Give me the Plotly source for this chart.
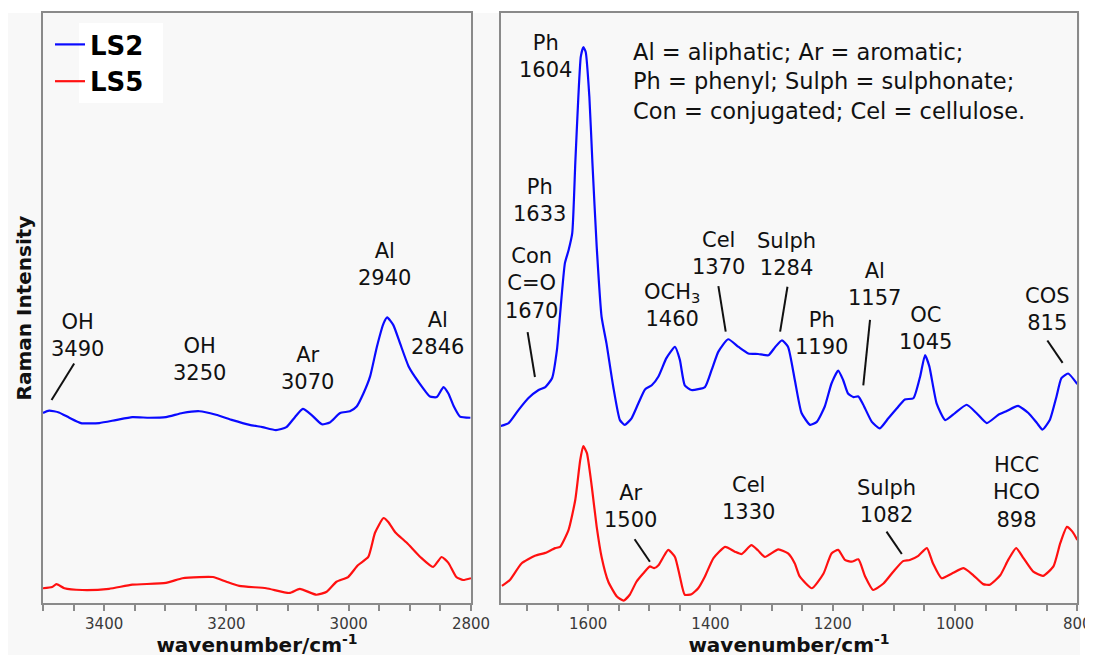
import plotly.graph_objects as go

# ---------------- data ----------------
# High-wavenumber region (left panel)
hw_wn_ls2 = [3500, 3490, 3474, 3457, 3438, 3408, 3381, 3354, 3326, 3299, 3272, 3244, 3217,
             3190, 3162, 3141, 3119, 3102, 3088, 3075, 3061, 3044, 3031, 3014, 2998, 2987,
             2976, 2965, 2954, 2943, 2937, 2927, 2916, 2902, 2886, 2867, 2856, 2845, 2837,
             2828, 2818, 2801]
hw_ls2 = [32.2, 32.6, 32.3, 31.4, 30.5, 30.5, 31.0, 31.5, 31.4, 31.5, 32.2, 32.5, 31.9,
          31.0, 30.2, 29.8, 29.3, 29.8, 31.5, 32.9, 31.9, 30.3, 30.6, 32.2, 32.5, 33.3,
          35.5, 38.4, 43.4, 47.4, 48.4, 47.1, 44.0, 40.1, 37.5, 35.0, 34.9, 36.6, 35.5,
          33.3, 31.6, 31.4]

hw_wn_ls5 = [3500, 3485, 3478, 3465, 3436, 3392, 3354, 3299, 3272, 3244, 3222, 3200, 3179,
             3135, 3097, 3080, 3053, 3036, 3020, 3001, 2985, 2968, 2957, 2943, 2935, 2924,
             2905, 2883, 2862, 2848, 2837, 2824, 2813, 2800]
hw_ls5 = [2.5, 2.7, 3.2, 2.5, 2.2, 2.4, 3.1, 3.4, 4.2, 4.4, 4.4, 3.6, 2.9,
          2.5, 1.7, 2.4, 1.4, 1.9, 3.6, 4.4, 6.4, 7.8, 11.9, 14.4, 13.7, 12.0,
          10.2, 7.8, 6.1, 7.8, 6.8, 4.4, 3.9, 4.2]

# Fingerprint region (right panel)
fp_wn_ls2 = [1743, 1730, 1714, 1698, 1681, 1670, 1659, 1651, 1646, 1638, 1632, 1626, 1621,
             1616, 1612, 1608, 1604, 1598, 1593, 1586, 1578, 1570, 1559, 1548, 1540, 1529,
             1518, 1507, 1496, 1485, 1472, 1458, 1450, 1442, 1431, 1409, 1398, 1387, 1371,
             1354, 1338, 1322, 1305, 1294, 1283, 1273, 1262, 1251, 1237, 1226, 1213, 1202,
             1191, 1183, 1175, 1166, 1158, 1150, 1136, 1123, 1109, 1095, 1082, 1068, 1057,
             1049, 1042, 1030, 1016, 1000, 981, 965, 948, 929, 916, 897, 880, 866, 857,
             845, 834, 826, 815, 800]
fp_ls2 = [30.0, 30.5, 32.7, 34.7, 36.1, 36.6, 38.1, 42.9, 48.8, 57.6, 59.8, 62.7, 74.6,
          85.8, 92.6, 94.2, 93.4, 85.8, 74.6, 60.4, 48.5, 44.0, 36.7, 31.0, 30.2, 31.3,
          33.8, 36.2, 36.9, 38.4, 41.5, 43.4, 41.2, 36.9, 36.1, 36.6, 39.5, 42.6, 44.7,
          43.4, 42.3, 42.2, 42.0, 43.4, 44.5, 43.4, 37.8, 32.2, 30.2, 30.7, 33.3, 37.2,
          39.4, 37.8, 35.5, 34.9, 35.0, 33.6, 30.7, 29.6, 31.3, 33.0, 34.5, 34.7, 38.4,
          42.0, 40.1, 33.8, 31.0, 32.2, 33.6, 32.2, 30.5, 31.9, 32.5, 33.4, 32.2, 30.5, 29.4,
          31.0, 35.0, 38.1, 38.9, 37.1]

fp_wn_ls5 = [1741, 1728, 1709, 1687, 1670, 1654, 1646, 1632, 1621, 1613, 1608, 1602, 1594,
             1586, 1578, 1567, 1553, 1542, 1532, 1521, 1510, 1499, 1492, 1485, 1477, 1469,
             1458, 1450, 1442, 1431, 1420, 1409, 1395, 1376, 1360, 1349, 1333, 1322, 1311,
             1289, 1273, 1262, 1254, 1234, 1215, 1202, 1191, 1180, 1169, 1158, 1147, 1134,
             1117, 1101, 1085, 1074, 1060, 1046, 1036, 1022, 1005, 986, 970, 954, 943, 926,
             913, 900, 888, 872, 856, 839, 828, 817, 808, 800]
fp_ls5 = [2.9, 3.9, 6.7, 8.0, 8.5, 9.3, 9.5, 12.4, 17.5, 24.2, 26.6, 25.4, 19.7,
          12.9, 7.8, 3.6, 1.1, 0.4, 1.4, 3.6, 5.0, 6.2, 5.9, 6.4, 7.8, 9.0,
          7.8, 4.5, 1.4, 1.5, 2.5, 4.5, 7.6, 9.5, 8.7, 8.3, 9.8, 8.9, 7.8,
          9.1, 8.4, 6.7, 4.5, 2.5, 5.0, 8.4, 9.0, 7.3, 7.0, 7.4, 4.5, 2.2,
          3.3, 5.3, 7.1, 7.3, 8.0, 9.3, 6.7, 4.2, 5.0, 5.9, 4.7, 3.2, 3.1, 4.7,
          7.3, 9.3, 7.6, 5.3, 4.6, 6.2, 10.1, 12.9, 12.1, 10.7]

series_names = ["LS2", "LS5"]

# peak labels: (text, wavenumber, intensity, panel)
peak_labels = [
    ("OH<br>3490", 3443, 45.4, 1),
    ("OH<br>3250", 3244, 41.2, 1),
    ("Ar<br>3070", 3067, 39.7, 1),
    ("Al<br>2940", 2941, 57.3, 1),
    ("Al<br>2846", 2854, 45.6, 1),
    ("Ph<br>1604", 1669, 92.6, 2),
    ("Ph<br>1633", 1680, 68.3, 2),
    ("Con<br>C=O<br>1670", 1693, 54.2, 2),
    ("OCH<sub>3</sub><br>1460", 1463, 50.5, 2),
    ("Cel<br>1370", 1387, 59.2, 2),
    ("Sulph<br>1284", 1275, 59.1, 2),
    ("Al<br>1157", 1131, 53.9, 2),
    ("Ph<br>1190", 1218, 45.7, 2),
    ("OC<br>1045", 1048, 46.6, 2),
    ("COS<br>815", 849, 49.7, 2),
    ("Ar<br>1500", 1531, 16.3, 2),
    ("Cel<br>1330", 1338, 17.7, 2),
    ("Sulph<br>1082", 1112, 17.2, 2),
    ("HCC<br>HCO<br>898", 899, 18.7, 2),
]
# leader lines: (wn0, y0, wn1, y1, panel)
leaders = [
    (3486, 34.4, 3449, 40.6, 1),
    (1699, 45.9, 1687, 38.3, 2),
    (1387, 53.7, 1375, 46.0, 2),
    (1274, 53.6, 1286, 46.0, 2),
    (1139, 48.0, 1150, 36.9, 2),
    (849, 44.5, 824, 40.7, 2),
    (1524, 10.8, 1499, 7.0, 2),
    (1112, 12.1, 1087, 8.3, 2),
]
key_text = ("Al = aliphatic; Ar = aromatic;<br>Ph = phenyl; Sulph = sulphonate;"
            "<br>Con = conjugated; Cel = cellulose.")

# ---------------- figure ----------------
# page has an 8px body margin -> figure drawn at (8, 8)
OFF = 8
W, H = 1093 - OFF, 657 - OFF


def px(p):
    return (p - OFF) / W


def py(p):
    return 1 - (p - OFF) / H


FONT = "DejaVu Sans"
BLUE, RED = "#0a0aff", "#ff1010"


def spectrum(x, y, name, color, xa, ya, show):
    return go.Scatter(x=x, y=y, mode="lines", name=name,
                      line=dict(color=color, width=2.2, shape="spline", smoothing=0.5),
                      xaxis=xa, yaxis=ya, legendgroup=name, showlegend=show)


fig = go.Figure()
fig.add_trace(spectrum(hw_wn_ls2, hw_ls2, series_names[0], BLUE, "x", "y", True))
fig.add_trace(spectrum(hw_wn_ls5, hw_ls5, series_names[1], RED, "x", "y", True))
fig.add_trace(spectrum(fp_wn_ls2, fp_ls2, series_names[0], BLUE, "x2", "y2", False))
fig.add_trace(spectrum(fp_wn_ls5, fp_ls5, series_names[1], RED, "x2", "y2", False))

ydom = [py(603), py(13)]
axis_common = dict(showline=True, mirror=True, linecolor="#8a8a8a", linewidth=1.5,
                   showgrid=False, zeroline=False)
xcommon = dict(axis_common, ticks="outside", ticklen=6, tickwidth=1.5, tickcolor="#8a8a8a",
               dtick=200, tick0=0,
               minor=dict(ticks="outside", dtick=50, ticklen=6, tickwidth=1.5,
                          tickcolor="#8a8a8a"),
               tickfont=dict(family=FONT, size=15, color="#3a3a3a"),
               title=dict(text="wavenumber/cm<sup>-1</sup>",
                          font=dict(family=FONT, size=20, color="#111111", weight="bold"),
                          standoff=1),
               automargin=False)
fig.update_layout(
    width=W, height=H,
    margin=dict(l=0, r=0, t=0, b=0),
    paper_bgcolor="white", plot_bgcolor="rgba(0,0,0,0)",
    xaxis=dict(xcommon, domain=[px(43), px(471)], range=[3500, 2800], anchor="y"),
    xaxis2=dict(xcommon, domain=[px(500.7), px(1077.3)], range=[1743, 800], anchor="y2"),
    yaxis=dict(axis_common, domain=ydom, range=[0, 100], anchor="x", showticklabels=False,
               ticks="", automargin=False,
               title=dict(text="Raman Intensity",
                          font=dict(family=FONT, size=20, color="#111111", weight="bold"),
                          standoff=4)),
    yaxis2=dict(axis_common, domain=ydom, range=[0, 100], anchor="x2",
                showticklabels=False, ticks=""),
    showlegend=True,
    legend=dict(x=px(50), y=py(21), xanchor="left", yanchor="top",
                bgcolor="rgba(0,0,0,0)", borderwidth=0,
                font=dict(family=FONT, size=26, color="black", weight="bold"),
                itemwidth=30, tracegroupgap=0),
)

shapes = [
    dict(type="rect", xref="paper", yref="paper", x0=0, x1=px(1080),
         y0=py(655), y1=py(13), fillcolor="#f8f8f8", line=dict(width=0),
         layer="below"),
    dict(type="rect", xref="paper", yref="paper", x0=px(79), x1=px(163),
         y0=py(103), y1=py(23), fillcolor="white", line=dict(width=0),
         layer="below"),
]
for x0, y0, x1, y1, p in leaders:
    xr, yr = ("x", "y") if p == 1 else ("x2", "y2")
    shapes.append(dict(type="line", xref=xr, yref=yr, x0=x0, y0=y0, x1=x1, y1=y1,
                       line=dict(color="#111111", width=2)))
fig.update_layout(shapes=shapes)

annotations = []
for txt, xv, yv, p in peak_labels:
    xr, yr = ("x", "y") if p == 1 else ("x2", "y2")
    annotations.append(dict(text=txt, x=xv, y=yv, xref=xr, yref=yr, showarrow=False,
                            xanchor="center", yanchor="middle", align="center",
                            font=dict(family=FONT, size=21, color="#111111")))
annotations.append(dict(text=key_text, x=1530, y=88.4, xref="x2", yref="y2",
                        showarrow=False, xanchor="left", yanchor="middle", align="left",
                        font=dict(family=FONT, size=22.5, color="#111111")))
fig.update_layout(annotations=annotations)

fig.write_html("out.html")
